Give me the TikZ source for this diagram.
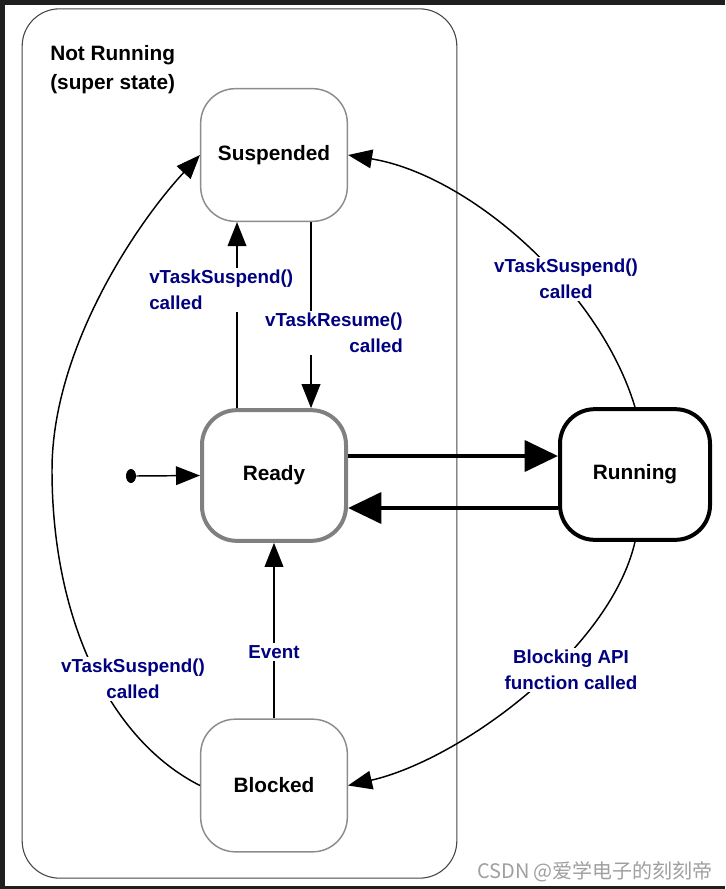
\documentclass[tikz,border=0pt]{standalone}
\usepackage{fontspec}
\setmainfont{Liberation Sans}
\newfontfamily\cjkfont{Noto Sans CJK SC}
\usetikzlibrary{arrows.meta,calc,shapes.geometric}
\definecolor{lblblue}{RGB}{0,0,128}
\definecolor{framedark}{RGB}{31,31,31}
\definecolor{thingray}{RGB}{140,140,140}
\definecolor{thickgray}{RGB}{128,128,128}
\definecolor{supergray}{RGB}{70,70,70}
\begin{document}
\begin{tikzpicture}[x=0.75pt,y=-0.75pt,
  statebox/.style={rounded corners=26pt, fill=white, inner sep=0pt,
    font=\fontsize{15.6}{18}\selectfont\bfseries, text=black},
  thinstate/.style={statebox, draw=thingray, line width=1.1pt,
    minimum width=110pt, minimum height=99.5pt},
  readystate/.style={statebox, draw=thickgray, line width=3pt,
    minimum width=108pt, minimum height=98pt},
  runstate/.style={statebox, draw=black, line width=3pt,
    minimum width=112.5pt, minimum height=98pt},
  lbl/.style={fill=white, inner sep=1.5pt, text=lblblue,
    font=\fontsize{14.1}{19.5}\selectfont\bfseries},
  arr/.style={draw=black, line width=1.1pt, -{Triangle[length=18pt,width=14pt]}},
  thickarr/.style={draw=black, line width=3.6pt, -{Triangle[length=25pt,width=23pt]}}
]
\useasboundingbox (0,0) rectangle (725,889);
\fill[white] (0,0) rectangle (725,889);
% dark frame of the screenshot
\fill[framedark] (0,0) rectangle (725,5);
\fill[framedark] (0,0) rectangle (5,889);
\fill[framedark] (0,886) rectangle (725,889);

% super state
\node (super) [draw=supergray, line width=0.8pt, rounded corners=28pt,
  minimum width=326pt, minimum height=652pt, inner sep=0pt] at (239.5,443.5) {};
\node (supertitle) [anchor=west, align=left, inner sep=0pt,
  font=\fontsize{15.6}{21.75}\selectfont\bfseries] at (50,70)
  {Not Running\\(super state)};

% states
\node (susp) [thinstate] at (274,155) {Suspended};
\node (ready) [readystate] at (274,475.5) {Ready};
\node (run) [runstate] at (635,474.5) {Running};
\node (blk) [thinstate] at (274,785.5) {Blocked};

% initial pseudo state
\node (init) [ellipse, fill=black, inner sep=0pt, minimum width=7.5pt,
  minimum height=10.5pt] at (131,476) {};
\draw[arr] (init.east) -- (ready.west);

% Ready <-> Suspended
\draw[arr] ($(ready.north)+(-37,0)$) -- ($(susp.south)+(-37,0)$);
\draw[arr] ($(susp.south)+(37,0)$) -- ($(ready.north)+(37,0)$);

% Ready <-> Running
\draw[thickarr] ($(ready.east)+(0,-19.5)$) -- ($(run.west)+(0,-18.5)$);
\draw[thickarr] ($(run.west)+(0,33.5)$) -- ($(ready.east)+(0,32.5)$);

% Running -> Suspended
\draw[arr] (run.north) .. controls (600,290) and (470,175) .. (susp.east);
% Running -> Blocked
\draw[arr] (run.south) .. controls (610,650) and (460,760) .. (blk.east);
% Blocked -> Ready
\draw[arr] (blk.north) -- (ready.south);
% Blocked -> Suspended
\draw[arr] (blk.west) .. controls (110,740) and (52,620) .. (52,470)
  .. controls (52,350) and (135,225) .. (susp.west);

% labels
\node (l1) [lbl, anchor=west, align=left] at (147,290) {vTaskSuspend()\\called};
\node (l2) [lbl, anchor=east, align=right] at (405,333) {vTaskResume()\\called};
\node (l3) [lbl, align=center] at (566,279) {vTaskSuspend()\\called};
\node (l4) [lbl, align=center] at (571,670) {Blocking API\\function called};
\node (l5) [lbl] at (274,652) {Event};
\node (l6) [lbl, align=center] at (133,679) {vTaskSuspend()\\called};

% watermark
\node (wm) [text=gray!75, inner sep=0pt, font=\fontsize{15}{18}\selectfont\cjkfont]
  at (595,872) {CSDN @爱学电子的刻刻帝};
\end{tikzpicture}
\end{document}
